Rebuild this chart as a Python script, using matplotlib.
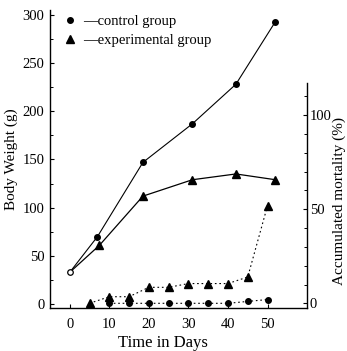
import matplotlib
matplotlib.use("Agg")
import matplotlib.pyplot as plt
from matplotlib.lines import Line2D
from matplotlib.ticker import MultipleLocator, FixedLocator

# Body weight (g)
ctrl_bw_days = [0, 7, 18.5, 31, 42, 52]
ctrl_bw = [33, 70, 147, 187, 228, 293]
exp_bw_days = [0, 7.5, 18.5, 31, 42, 52]
exp_bw = [33, 61, 112, 129, 135, 129]

# Accumulated mortality (%)
ctrl_mort_days = [10, 15, 20, 25, 30, 35, 40, 45, 50]
ctrl_mort = [0, 0, 0, 0, 0, 0, 0, 1, 2]
exp_mort_days = [5, 10, 15, 20, 25, 30, 35, 40, 45, 50]
exp_mort = [0, 3.5, 3.5, 8.5, 8.5, 10.5, 10.5, 10.5, 14, 52]

x_ticks = [0, 10, 20, 30, 40, 50]
bw_ticks = [0, 50, 100, 150, 200, 250, 300]
mort_ticks = [0, 50, 100]
mort_minor = [10, 20, 30, 40, 60, 70, 80, 90, 110]

plt.rcParams['font.family'] = ['Liberation Serif', 'DejaVu Serif']

fig = plt.figure(figsize=(3.47, 3.51), dpi=100)
ax = fig.add_axes([0.144, 0.1225, 0.741, 0.849])
ax2 = ax.twinx()

ms_c, ms_t = 4.0, 5.6

# body weight lines
ax.plot(ctrl_bw_days, ctrl_bw, color='black', lw=0.8, marker='o', ms=ms_c,
        markevery=list(range(1, len(ctrl_bw_days))))
ax.plot(exp_bw_days, exp_bw, color='black', lw=0.9, marker='^', ms=ms_t,
        markevery=list(range(1, len(exp_bw_days))))
ax.plot(ctrl_bw_days[:1], ctrl_bw[:1], ls='none', marker='o', ms=ms_c,
        mfc='white', mec='black', mew=0.9, zorder=5)

# mortality lines
ax2.plot(ctrl_mort_days, ctrl_mort, color='black', lw=0.8, ls=(0, (1.5, 2.5)),
         marker='o', ms=ms_c)
ax2.plot(exp_mort_days, exp_mort, color='black', lw=0.8, ls=(0, (1.5, 2.5)),
         marker='^', ms=ms_t)

ax.set_xlim(-5, 60)
ax.set_ylim(-4, 305)
ax2.set_ylim(-2.5, 156)

ax.set_xticks(x_ticks)
ax.set_yticks(bw_ticks)
ax.yaxis.set_minor_locator(MultipleLocator(25))
ax2.set_yticks(mort_ticks)
ax2.yaxis.set_minor_locator(FixedLocator(mort_minor))

for a in (ax, ax2):
    a.spines['top'].set_visible(False)
    a.tick_params(direction='in', labelsize=10.5, width=0.8, length=3, pad=4)
    a.tick_params(which='minor', direction='in', width=0.7, length=2)
ax2.tick_params(axis='y', pad=2)
ax.spines['right'].set_visible(False)
ax2.spines['left'].set_visible(False)
ax2.spines['bottom'].set_visible(False)
ax2.spines['right'].set_bounds(-2.5, 117)
ax.spines['left'].set_linewidth(1.0)
ax.spines['bottom'].set_linewidth(1.0)
ax2.spines['right'].set_linewidth(1.0)
ax.tick_params(axis='x', pad=7)

ax.set_xlabel('Time in Days', fontsize=12)
ax.xaxis.set_label_coords(0.44, -0.09)
ax.set_ylabel('Body Weight (g)', fontsize=11)
ax.yaxis.set_label_coords(-0.125, 0.5)
ax2.set_ylabel('Accumulated mortality (%)', fontsize=11, rotation=90)
ax2.yaxis.set_label_coords(1.1, 0.36)

handles = [Line2D([], [], ls='none', marker='o', ms=ms_c, color='black'),
           Line2D([], [], ls='none', marker='^', ms=ms_t, color='black')]
ax.legend(handles, ['\u2014control group', '\u2014experimental group'],
          loc='upper left', bbox_to_anchor=(0.055, 0.985), frameon=False,
          handlelength=0.8, handletextpad=0.5, borderpad=0, borderaxespad=0,
          labelspacing=0.45, fontsize=10.5)

fig.savefig('out.png', dpi=100)
